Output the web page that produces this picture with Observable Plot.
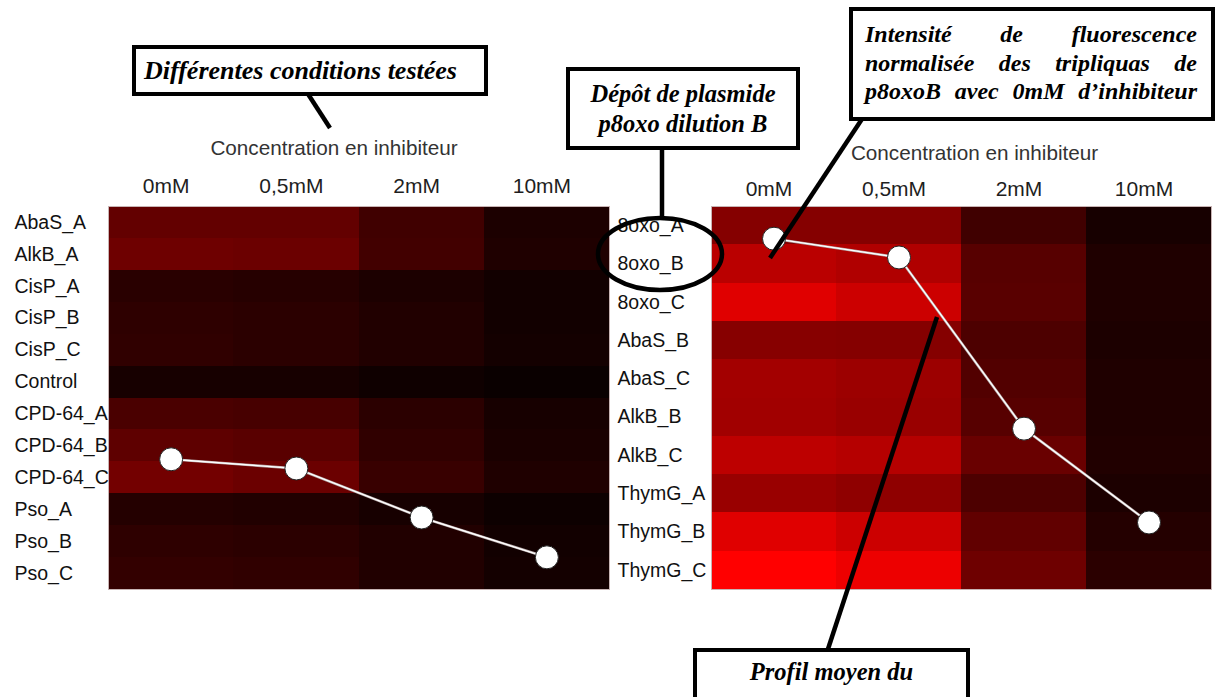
<!DOCTYPE html>
<html>
<head>
<meta charset="utf-8">
<script src="https://cdn.jsdelivr.net/npm/d3@7"></script>
<script src="https://cdn.jsdelivr.net/npm/@observablehq/plot@0.6"></script>
<style>
  html, body { margin: 0; padding: 0; background: #fff; }
  #chart { position: relative; width: 1215px; height: 697px; overflow: hidden; background: #fff; }
  .panel { position: absolute; display: block; }
  .note {
    position: absolute; box-sizing: border-box; border: 4px solid #000; background: #fff;
    font-family: "Liberation Serif", "Times New Roman", serif; font-weight: bold; font-style: italic;
    font-size: 24px; color: #000;
  }
  .just { text-align: justify; text-align-last: justify; white-space: nowrap; }
  svg.annot { position: absolute; left: 0; top: 0; pointer-events: none; }
</style>
</head>
<body>
<div id="chart"></div>
<script>
// ---- data ----
const concentrations = ["0mM", "0,5mM", "2mM", "10mM"];
const axisTitle = "Concentration en inhibiteur";

const leftConditions = ["AbaS_A", "AlkB_A", "CisP_A", "CisP_B", "CisP_C", "Control",
  "CPD-64_A", "CPD-64_B", "CPD-64_C", "Pso_A", "Pso_B", "Pso_C"];
// normalized fluorescence intensity per condition, columns = concentrations
const leftIntensity = [
  [0.39, 0.39, 0.25, 0.11],
  [0.43, 0.42, 0.26, 0.12],
  [0.16, 0.15, 0.11, 0.07],
  [0.18, 0.17, 0.13, 0.07],
  [0.19, 0.17, 0.13, 0.08],
  [0.09, 0.09, 0.06, 0.04],
  [0.29, 0.28, 0.17, 0.09],
  [0.37, 0.35, 0.19, 0.10],
  [0.45, 0.42, 0.22, 0.12],
  [0.14, 0.13, 0.09, 0.05],
  [0.18, 0.17, 0.13, 0.07],
  [0.20, 0.19, 0.13, 0.08]
];
const leftProfile = [0.34, 0.316, 0.188, 0.084];

const rightConditions = ["8oxo_A", "8oxo_B", "8oxo_C", "AbaS_B", "AbaS_C",
  "AlkB_B", "AlkB_C", "ThymG_A", "ThymG_B", "ThymG_C"];
const rightIntensity = [
  [0.52, 0.52, 0.25, 0.09],
  [0.73, 0.69, 0.34, 0.12],
  [0.88, 0.80, 0.35, 0.12],
  [0.53, 0.52, 0.30, 0.11],
  [0.64, 0.61, 0.32, 0.12],
  [0.63, 0.60, 0.34, 0.12],
  [0.74, 0.71, 0.41, 0.13],
  [0.60, 0.56, 0.30, 0.11],
  [0.88, 0.80, 0.38, 0.14],
  [1.00, 0.93, 0.43, 0.17]
];
const rightProfile = [0.916, 0.867, 0.42, 0.175];

// ---- build ----
const chart = document.getElementById("chart");
const font = "'Liberation Sans', Arial, sans-serif";

function heatmap({conditions, intensity, profile, left, width, marginLeft, marginRight, labelX, titleDx, titleDy, tickPadding}) {
  const height = 470, top = 130, marginTop = 76, marginBottom = 11;
  const cells = conditions.flatMap((c, i) => concentrations.map((k, j) => ({condition: c, concentration: k, intensity: intensity[i][j]})));
  const heat = Plot.plot({
    width, height, marginLeft, marginRight, marginTop, marginBottom,
    style: {fontFamily: font, background: "transparent", overflow: "visible"},
    x: {domain: concentrations, padding: 0, round: false, axis: null},
    y: {domain: conditions, padding: 0, round: false, axis: null},
    color: {type: "linear", domain: [0, 1], range: ["#000000", "#ff0000"], interpolate: "rgb"},
    marks: [
      Plot.cell(cells, {x: "concentration", y: "condition", fill: "intensity", shapeRendering: "crispEdges"}),
      Plot.frame({stroke: "#c8b4b4", strokeWidth: 1}),
      Plot.axisX({anchor: "top", tickSize: 0, tickPadding, fontSize: 21, fill: "#1e1e1e", label: null, dx: -5}),
      Plot.axisY({anchor: "left", tickSize: 0, tickPadding: 0, textAnchor: "start", dx: labelX - marginLeft, fontSize: 19.5, fill: "#111", label: null}),
      Plot.text([axisTitle], {text: d => d, frameAnchor: "top", dy: titleDy, dx: titleDx, fontSize: 20.7, fill: "#333"})
    ]
  });
  heat.classList.add("panel");
  heat.style.left = left + "px";
  heat.style.top = top + "px";
  chart.appendChild(heat);

  const prof = profile.map((v, j) => ({concentration: concentrations[j], level: v}));
  const over = Plot.plot({
    width, height, marginLeft, marginRight, marginTop, marginBottom,
    style: {background: "transparent", overflow: "visible"},
    x: {type: "point", domain: concentrations, padding: 0.5, round: false, axis: null},
    y: {domain: [0, 1], axis: null},
    marks: [
      Plot.line(prof, {x: "concentration", y: "level", stroke: "#b0a0a0", strokeWidth: 2.6}),
      Plot.line(prof, {x: "concentration", y: "level", stroke: "#ffffff", strokeWidth: 1.4}),
      Plot.dot(prof, {x: "concentration", y: "level", r: 11.5, fill: "#ffffff", stroke: "#222", strokeWidth: 1})
    ]
  });
  over.classList.add("panel");
  over.style.left = left + "px";
  over.style.top = top + "px";
  chart.appendChild(over);
}

heatmap({conditions: leftConditions, intensity: leftIntensity, profile: leftProfile,
  left: 0, width: 612, marginLeft: 108, marginRight: 3, labelX: 14, titleDx: -25, titleDy: -66, tickPadding: 14});
heatmap({conditions: rightConditions, intensity: rightIntensity, profile: rightProfile,
  left: 600, width: 615, marginLeft: 111, marginRight: 4, labelX: 17, titleDx: 13, titleDy: -61, tickPadding: 11});

// ---- annotation callouts ----
function note(html, css) {
  const d = document.createElement("div");
  d.className = "note";
  Object.assign(d.style, css);
  d.innerHTML = html;
  chart.appendChild(d);
}
note("Différentes conditions testées",
  {left: "132px", top: "45px", width: "356px", height: "51px", padding: "0 0 0 8px", lineHeight: "44px", fontSize: "26px"});
note("Dépôt de plasmide<br>p8oxo dilution B",
  {left: "566px", top: "67px", width: "234px", height: "83px", textAlign: "center", lineHeight: "30px", padding: "8px 0 0 0", fontSize: "24.5px"});
note("<div class='just'>Intensité de fluorescence</div><div class='just'>normalisée des tripliquas de</div><div class='just'>p8oxoB avec 0mM d’inhibiteur</div>",
  {left: "849px", top: "7px", width: "366px", height: "114px", lineHeight: "28.5px", padding: "9px 14px 0 12px", fontSize: "24px"});
note("Profil moyen du",
  {left: "693px", top: "648px", width: "277px", height: "80px", textAlign: "center", lineHeight: "30px", padding: "5px 0 0 0", fontSize: "24.5px"});

const ns = "http://www.w3.org/2000/svg";
const svg = document.createElementNS(ns, "svg");
svg.setAttribute("class", "annot");
svg.setAttribute("width", 1215);
svg.setAttribute("height", 697);
const shapes = [
  ["line", {x1: 308, y1: 94, x2: 330, y2: 128}],
  ["line", {x1: 662, y1: 149, x2: 662, y2: 219}],
  ["ellipse", {cx: 660, cy: 254, rx: 62, ry: 36}],
  ["line", {x1: 862, y1: 119, x2: 770, y2: 258}],
  ["line", {x1: 937, y1: 317, x2: 828, y2: 649}]
];
for (const [tag, attrs] of shapes) {
  const el = document.createElementNS(ns, tag);
  for (const k in attrs) el.setAttribute(k, attrs[k]);
  el.setAttribute("stroke", "#000");
  el.setAttribute("stroke-width", 4.5);
  el.setAttribute("fill", "none");
  svg.appendChild(el);
}
chart.appendChild(svg);
</script>
</body>
</html>
